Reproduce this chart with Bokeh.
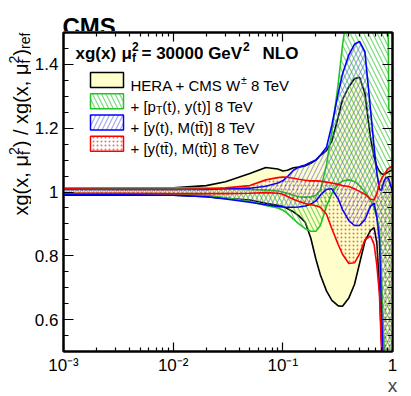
from bokeh.plotting import figure
from bokeh.layouts import row, column
from bokeh.models import (FixedTicker, CustomJSTickFormatter, LinearAxis, LogAxis,
                          Label, BoxAnnotation, Range1d, ColumnDataSource)
from bokeh.embed import file_html
from bokeh.resources import INLINE

# ---------------- data ----------------
x_vals = [0.001, 0.003, 0.01, 0.02, 0.03, 0.05, 0.07, 0.09, 0.1, 0.11, 0.125, 0.14,
          0.16, 0.18, 0.2, 0.22, 0.25, 0.28, 0.32, 0.35, 0.4, 0.45, 0.5, 0.56, 0.63,
          0.68, 0.72, 0.76, 0.79, 0.83, 0.87, 0.905, 0.925, 0.955, 1.0]

# HERA + CMS W 8 TeV
hera_hi = [1.012, 1.012, 1.013, 1.02, 1.032, 1.058, 1.077, 1.072, 1.066, 1.068, 1.076, 1.078,
           1.082, 1.09, 1.10, 1.115, 1.13, 1.16, 1.235, 1.29, 1.33, 1.355, 1.36, 1.31, 1.17,
           1.11, 1.08, 1.065, 1.058, 1.055, 1.058, 1.062, 1.064, 1.066, 1.068]
hera_lo = [0.99, 0.99, 0.99, 0.985, 0.98, 0.975, 0.965, 0.958, 0.955, 0.948, 0.938, 0.925,
           0.905, 0.855, 0.79, 0.74, 0.69, 0.66, 0.643, 0.642, 0.668, 0.71, 0.775, 0.845, 0.88,
           0.888, 0.84, 0.7, 0.55, 0.4, 0.3, 0.25, 0.2, 0.2, 0.2]
# + [pT(t), y(t)]
pty_hi = [1.013, 1.013, 1.013, 1.012, 1.01, 1.008, 1.006, 1.003, 1.0, 0.996, 0.99, 0.985,
          0.984, 0.985, 0.99, 1.005, 1.085, 1.19, 1.34, 1.46, 1.6, 1.68, 1.72, 1.74, 1.75,
          1.75, 1.75, 1.75, 1.75, 1.75, 1.75, 1.75, 1.26, 1.25, 1.24]
pty_lo = [0.995, 0.995, 0.994, 0.99, 0.982, 0.97, 0.958, 0.95, 0.943, 0.933, 0.915, 0.9,
          0.885, 0.877, 0.877, 0.895, 0.955, 0.995, 1.025, 1.034, 1.038, 1.033, 1.02, 1.0, 0.975,
          0.95, 0.92, 0.88, 0.76, 0.55, 0.4, 0.3, 0.25, 0.2, 0.2]
# + [y(t), M(tt)]
ytm_hi = [1.008, 1.008, 1.008, 1.008, 1.01, 1.012, 1.018, 1.028, 1.035, 1.048, 1.068, 1.078,
          1.085, 1.093, 1.10, 1.115, 1.14, 1.21, 1.31, 1.37, 1.43, 1.463, 1.472, 1.44, 1.26,
          1.14, 1.06, 1.01, 1.005, 1.03, 1.045, 1.045, 1.04, 1.025, 1.0]
ytm_lo = [0.992, 0.992, 0.99, 0.985, 0.978, 0.968, 0.96, 0.955, 0.953, 0.952, 0.952, 0.953,
          0.956, 0.962, 0.972, 0.99, 1.008, 1.01, 0.978, 0.945, 0.91, 0.895, 0.895, 0.913, 0.955,
          0.965, 0.92, 0.85, 0.65, 0.42, 0.3, 0.25, 0.2, 0.2, 0.2]
# + [y(tt), M(tt)]
yttm_hi = [1.01, 1.008, 1.008, 1.01, 1.013, 1.02, 1.038, 1.045, 1.047, 1.046, 1.043, 1.04,
           1.037, 1.035, 1.035, 1.034, 1.031, 1.028, 1.024, 1.02, 1.017, 1.01, 1.002, 0.993, 0.978,
           0.975, 0.995, 1.028, 1.04, 1.052, 1.063, 1.072, 1.075, 1.078, 1.08]
yttm_lo = [0.996, 0.996, 0.995, 0.995, 0.995, 0.996, 0.998, 0.996, 0.993, 0.986, 0.977, 0.97,
           0.964, 0.96, 0.957, 0.952, 0.93, 0.885, 0.835, 0.805, 0.776, 0.778, 0.805, 0.85, 0.862,
           0.835, 0.77, 0.68, 0.52, 0.36, 0.25, 0.2, 0.2, 0.2, 0.2]

x_tick_values = [0.001, 0.01, 0.1, 1.0]
x_tick_labels = ["10\u207b\u00b3", "10\u207b\u00b2", "10\u207b\u00b9", "1"]
x_minor_ticks = [m * d for d in (0.001, 0.01, 0.1) for m in range(2, 10)]
y_tick_values = [0.6, 0.8, 1.0, 1.2, 1.4]
y_tick_labels = ["0.6", "0.8", "1", "1.2", "1.4"]
y_minor_ticks = [0.5 + 0.05 * i for i in range(21)]

legend_labels = ["HERA + CMS W", "+ [p", "+ [y(t), M(tt\u0304)] 8 TeV", "+ [y(tt\u0304), M(tt\u0304)] 8 TeV"]

FONT = "Liberation Sans"
GREEN = "#22c322"
BLUE = "#0000ff"
RED = "#ff0000"
YELLOW = "#ffffcc"

# layout constants (pixels)
TOP_H = 31          # strip above the plot (holds "CMS")
LEFT_W = 31         # strip left of the plot (holds the y title)
P_TOP, P_BOTTOM, P_LEFT, P_RIGHT = 1, 44, 30, 18
FW, FH = 329, 319
P_H = P_TOP + FH + P_BOTTOM

# ---------------- main figure ----------------
p = figure(title=None, x_axis_type="log", x_range=Range1d(1e-3, 1.0), y_range=Range1d(0.5, 1.5),
           frame_width=FW, frame_height=FH,
           min_border_left=P_LEFT, min_border_right=P_RIGHT, min_border_top=P_TOP,
           min_border_bottom=P_BOTTOM, output_backend="svg", toolbar_location=None)
p.background_fill_color = "white"
p.border_fill_color = "white"
p.outline_line_color = "black"
p.outline_line_width = 2
p.xgrid.visible = False
p.ygrid.visible = False

src = ColumnDataSource(dict(x=x_vals, hera_hi=hera_hi, hera_lo=hera_lo, pty_hi=pty_hi,
                            pty_lo=pty_lo, ytm_hi=ytm_hi, ytm_lo=ytm_lo,
                            yttm_hi=yttm_hi, yttm_lo=yttm_lo))

LW = 1.6
HATCH_G = dict(hatch_pattern="\\", hatch_color=GREEN, hatch_alpha=0.6, hatch_scale=9, hatch_weight=1.2)
HATCH_B = dict(hatch_pattern="/", hatch_color="#6060e0", hatch_alpha=0.55, hatch_scale=9, hatch_weight=1.2)
HATCH_R = dict(hatch_pattern=".", hatch_color=RED, hatch_alpha=0.6, hatch_scale=4, hatch_weight=1.0)

p.varea(x="x", y1="hera_lo", y2="hera_hi", source=src, fill_color=YELLOW, fill_alpha=1.0)
p.line(x="x", y="hera_hi", source=src, line_color="black", line_width=LW)
p.line(x="x", y="hera_lo", source=src, line_color="black", line_width=LW)
p.varea(x="x", y1="pty_lo", y2="pty_hi", source=src, fill_alpha=0.0, **HATCH_G)
p.line(x="x", y="pty_hi", source=src, line_color=GREEN, line_width=LW)
p.line(x="x", y="pty_lo", source=src, line_color=GREEN, line_width=LW)
p.varea(x="x", y1="ytm_lo", y2="ytm_hi", source=src, fill_alpha=0.0, **HATCH_B)
p.line(x="x", y="ytm_hi", source=src, line_color=BLUE, line_width=LW)
p.line(x="x", y="ytm_lo", source=src, line_color=BLUE, line_width=LW)
p.varea(x="x", y1="yttm_lo", y2="yttm_hi", source=src, fill_alpha=0.0, **HATCH_R)
p.line(x="x", y="yttm_hi", source=src, line_color=RED, line_width=LW)
p.line(x="x", y="yttm_lo", source=src, line_color=RED, line_width=LW)

# ---------------- axes ----------------
xt = FixedTicker(ticks=x_tick_values, minor_ticks=x_minor_ticks)
yt = FixedTicker(ticks=y_tick_values, minor_ticks=y_minor_ticks)
fmt_code = """
for (let i = 0; i < vals.length; i++) {
  if (Math.abs(tick - vals[i]) < 1e-6 * Math.abs(vals[i])) return labs[i];
}
return "";
"""
xfmt = CustomJSTickFormatter(args=dict(vals=x_tick_values, labs=x_tick_labels), code=fmt_code)
yfmt = CustomJSTickFormatter(args=dict(vals=y_tick_values, labs=y_tick_labels), code=fmt_code)

def style_axis(ax, ticker, major_len, minor_len, labels=True, fmt=None):
    ax.ticker = ticker
    ax.axis_line_width = 2
    ax.axis_line_color = "black"
    ax.major_tick_in = major_len
    ax.major_tick_out = 0
    ax.minor_tick_in = minor_len
    ax.minor_tick_out = 0
    ax.major_tick_line_width = 1.2
    ax.minor_tick_line_width = 1.2
    ax.axis_label_standoff = 0
    if labels:
        ax.formatter = fmt
        ax.major_label_text_font = FONT
        ax.major_label_text_font_size = "17px"
        ax.major_label_text_color = "black"
    else:
        ax.major_label_text_color = None
        ax.major_label_text_font_size = "1px"
        ax.major_label_standoff = 0

xa = p.xaxis[0]
style_axis(xa, xt, 9, 4, True, xfmt)
xa.major_label_standoff = 4
xa.axis_label = "x"
xa.axis_label_text_font = FONT
xa.axis_label_text_font_size = "19px"
xa.axis_label_text_font_style = "normal"
xa.axis_label_standoff = -3
try:
    xa.axis_label_align = "end"
except Exception:
    pass
ya = p.yaxis[0]
style_axis(ya, yt, 10, 5, True, yfmt)
ya.major_label_standoff = 5

top_ax = LogAxis()
style_axis(top_ax, xt, 9, 4, False)
p.add_layout(top_ax, "above")
right_ax = LinearAxis()
style_axis(right_ax, yt, 10, 5, False)
p.add_layout(right_ax, "right")

# ---------------- texts inside the frame ----------------
def txt(fig, s, sx, sy, size, bold=False, angle=0.0):
    fig.add_layout(Label(x=sx, y=sy, x_units="screen", y_units="screen", text=s,
                         text_font=FONT, text_font_size=f"{size}px",
                         text_font_style="bold" if bold else "normal",
                         text_color="black", angle=angle, text_align="left",
                         text_baseline="alphabetic"))

HB = 298
txt(p, "xg(x)", 12, HB, 17, bold=True)
txt(p, "\u03bc", 58, HB, 17, bold=True)
txt(p, "f", 68.5, HB - 4, 12, bold=True)
txt(p, "2", 68.5, HB + 7, 12, bold=True)
txt(p, "= 30000 GeV", 78, HB, 17, bold=True)
txt(p, "2", 179.5, HB + 7, 12, bold=True)
txt(p, "NLO", 199, HB, 17, bold=True)

box_specs = [
    dict(fill_color=YELLOW, fill_alpha=1.0, line_color="black"),
    dict(fill_alpha=0.0, line_color=GREEN, **HATCH_G),
    dict(fill_alpha=0.0, line_color=BLUE, **HATCH_B),
    dict(fill_alpha=0.0, line_color=RED, **HATCH_R),
]
centers = [271.5, 250.2, 229.0, 207.7]
for spec, cy in zip(box_specs, centers):
    p.add_layout(BoxAnnotation(left=27, right=60, bottom=cy - 7.5, top=cy + 7.5,
                               left_units="screen", right_units="screen",
                               bottom_units="screen", top_units="screen",
                               line_width=1.5, line_alpha=1.0, line_dash="solid", **spec))

TX = 67
b = [c - 5 for c in centers]
txt(p, legend_labels[0], TX, b[0], 15)
txt(p, "\u00b1", TX + 110.4, b[0] + 5, 10.5)
txt(p, "8 TeV", TX + 120.5, b[0], 15)
txt(p, legend_labels[1], TX, b[1], 15)
txt(p, "T", TX + 25.4, b[1] - 4, 10.5)
txt(p, "(t), y(t)] 8 TeV", TX + 31.8, b[1], 15)
txt(p, legend_labels[2], TX, b[2], 15)
txt(p, legend_labels[3], TX, b[3], 15)

# ---------------- strips holding the texts outside the frame ----------------
def strip(w, h):
    s = figure(title=None, frame_width=w, frame_height=h, x_range=Range1d(0, 1),
               y_range=Range1d(0, 1), x_axis_location=None, y_axis_location=None,
               min_border=0, min_border_left=0, min_border_right=0, min_border_top=0,
               min_border_bottom=0, output_backend="svg", toolbar_location=None)
    s.outline_line_color = None
    s.grid.visible = False
    s.background_fill_color = "white"
    s.border_fill_color = "white"
    return s

top_strip = strip(LEFT_W + P_LEFT + FW + P_RIGHT, TOP_H)
txt(top_strip, "CMS", 62, 5.5, 24, bold=True)

left_strip = strip(LEFT_W, P_H)
ANG = 1.5707963
MAIN, SUB, SUP = 20.0, 24.0, 13.5
base = TOP_H + P_H   # page y of the strip bottom
y_title = [("xg(x, \u03bc", MAIN, 214.0, 20), ("f", SUB, 153.6, 14), ("2", SUP, 153.6, 14),
           (") / xg(x, \u03bc", MAIN, 145.8, 20), ("f", SUB, 62.0, 14), ("2", SUP, 62.0, 14),
           (")", MAIN, 54.2, 20), ("ref", SUB, 47.5, 14)]
for s, sx, py, size in y_title:
    txt(left_strip, s, sx, base - py, size, angle=ANG)

layout = column(top_strip, row(left_strip, p, spacing=0), spacing=0)
open("out.html", "w").write(file_html(layout, INLINE))
